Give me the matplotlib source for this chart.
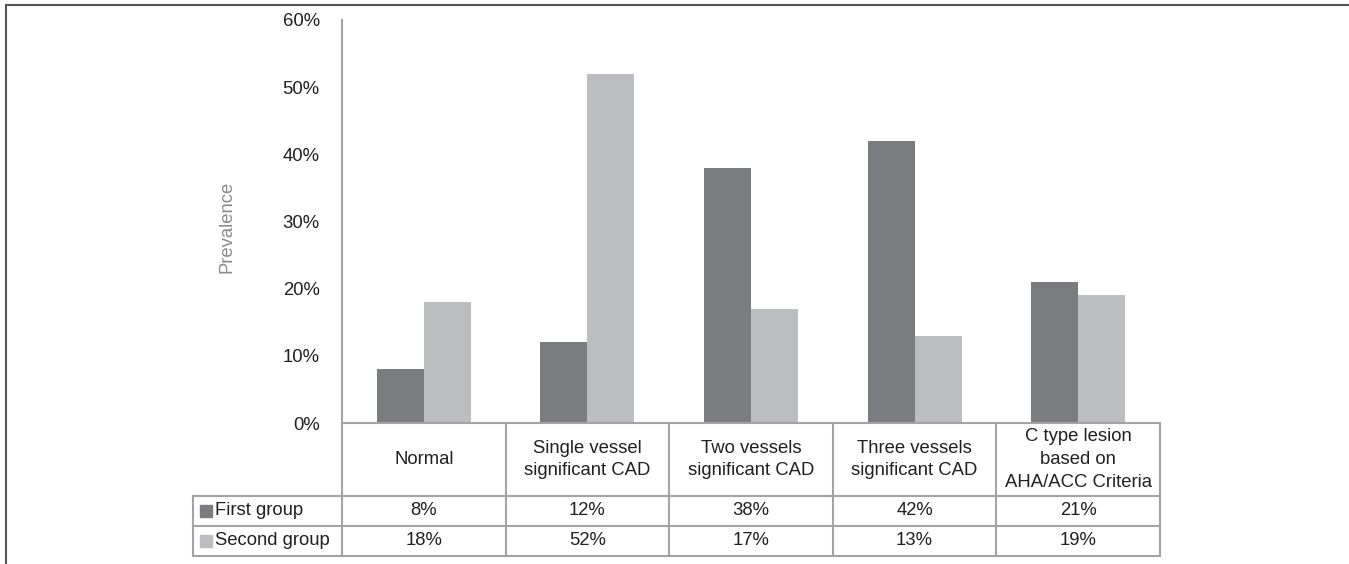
import matplotlib.pyplot as plt
import numpy as np
from matplotlib.patches import Rectangle

# === Prevalence data per group ===
categorias = ["Normal", "Single vessel\nsignificant CAD", "Two vessels\nsignificant CAD",
              "Three vessels\nsignificant CAD", "C type lesion\nbased on\nAHA/ACC Criteria"]
grupos = ["First group", "Second group"]
primer_grupo = [8, 12, 38, 42, 21]
segundo_grupo = [18, 52, 17, 13, 19]
yticks = [0, 10, 20, 30, 40, 50, 60]

colores = ["#7b7c80", "#bcbdc1"]
gris_linea = "#a3a3a3"
texto = "#231f20"
fs = 13.3

plt.rcParams['font.family'] = ['Liberation Sans', 'DejaVu Sans']

W, H = 1349, 564
fig = plt.figure(figsize=(W / 100, H / 100), dpi=100)
ax = fig.add_axes([342 / W, (H - 423) / H, (1160 - 342) / W, (423 - 20) / H])

x = np.arange(len(categorias))
ancho = 0.287
ax.bar(x - ancho / 2, primer_grupo, ancho, color=colores[0])
ax.bar(x + ancho / 2, segundo_grupo, ancho, color=colores[1])

ax.set_xlim(-0.5, len(categorias) - 0.5)
ax.set_ylim(0, 60)
ax.set_yticks(yticks)
ax.set_yticklabels([f"{v}%" for v in yticks], fontsize=fs, color=texto)
ax.set_xticks([])
ax.tick_params(axis='y', length=0, pad=16)
for lado in ["top", "right", "bottom"]:
    ax.spines[lado].set_visible(False)
ax.spines["left"].set_color(gris_linea)
ax.spines["left"].set_linewidth(1.5)

ax.text(-0.1406, 0.486, "Prevalence", transform=ax.transAxes, rotation=90,
        ha="center", va="center", fontsize=fs, color="#8a8a8a")

# === Data table below the axis ===
trans = ax.get_xaxis_transform()
y_top, y_head, y_r1, y_r2 = 0.0, -0.181, -0.2556, -0.330
x_izq = -1.411
x_der = len(categorias) - 0.5
kw = dict(color=gris_linea, lw=1.5, transform=trans, clip_on=False)

# horizontal lines
ax.plot([-0.5, x_der], [y_top, y_top], **kw)
for yy in [y_head, y_r1, y_r2]:
    ax.plot([x_izq, x_der], [yy, yy], **kw)
# vertical lines
ax.plot([x_izq, x_izq], [y_head, y_r2], **kw)
for xx in np.arange(len(categorias) + 1) - 0.5:
    ax.plot([xx, xx], [y_top, y_r2], **kw)

for i, cat in enumerate(categorias):
    ax.text(i, (y_top + y_head) / 2, cat, transform=trans, ha="center", va="center",
            fontsize=fs, color=texto, linespacing=1.45)
    ax.text(i, (y_head + y_r1) / 2, f"{primer_grupo[i]}%", transform=trans,
            ha="center", va="center", fontsize=fs, color=texto)
    ax.text(i, (y_r1 + y_r2) / 2, f"{segundo_grupo[i]}%", transform=trans,
            ha="center", va="center", fontsize=fs, color=texto)

# legend keys inside the row labels
lado_x = 12 / 163.6
lado_y = 12 / 403
for j, (g, c) in enumerate(zip(grupos, colores)):
    yc = [(y_head + y_r1) / 2, (y_r1 + y_r2) / 2][j]
    ax.add_patch(Rectangle((-1.368, yc - lado_y / 2), lado_x, lado_y, color=c,
                           transform=trans, clip_on=False))
    ax.text(-1.276, yc, g, transform=trans, ha="left", va="center",
            fontsize=fs, color=texto)

# marco exterior
fig.add_artist(plt.Line2D([6 / W, 6 / W], [0, 1 - 5 / H], color="#555555", lw=1.5))
fig.add_artist(plt.Line2D([6 / W, 1], [1 - 5 / H, 1 - 5 / H], color="#555555", lw=1.5))

fig.savefig("out.png", dpi=100)
